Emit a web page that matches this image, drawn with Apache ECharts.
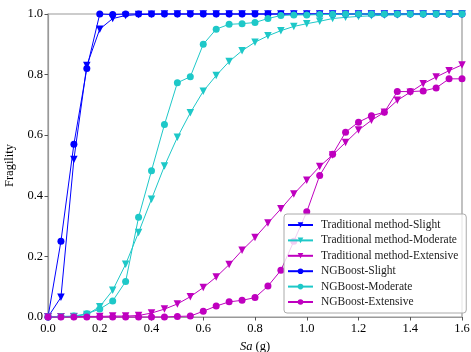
<!DOCTYPE html>
<html><head><meta charset="utf-8">
<script src="https://cdn.jsdelivr.net/npm/echarts@6/dist/echarts.min.js"></script>
<style>html,body{margin:0;padding:0;background:#fff}#c{width:471px;height:352px}</style>
</head><body><div id="c"></div>
<script>
const saValues = [0,0.05,0.1,0.15,0.2,0.25,0.3,0.35,0.4,0.45,0.5,0.55,0.6,0.65,0.7,0.75,0.8,0.85,0.9,0.95,1.0,1.05,1.1,1.15,1.2,1.25,1.3,1.35,1.4,1.45,1.5,1.55,1.6];
const tradSlight = [0,0.065,0.52,0.83,0.95,0.985,0.995,0.998,0.999,1,1,1,1,1,1,1,1,1,1,1,1,1,1,1,1,1,1,1,1,1,1,1,1];
const ngSlight = [0,0.25,0.57,0.82,1.0,0.998,1,1,1,1,1,1,1,1,1,1,1,1,1,1,1,1,1,1,1,1,1,1,1,1,1,1,1];
const tradModerate = [0,0.0005,0.002,0.008,0.034,0.088,0.174,0.279,0.389,0.498,0.593,0.674,0.745,0.797,0.843,0.879,0.907,0.928,0.945,0.959,0.968,0.976,0.985,0.989,0.992,0.994,0.996,0.997,0.998,0.998,0.999,0.999,0.999];
const ngModerate = [0,0.002,0.003,0.011,0.026,0.053,0.117,0.329,0.483,0.635,0.773,0.793,0.9,0.95,0.966,0.968,0.972,0.985,0.995,0.997,0.997,0.998,0.999,1,1,1,1,1,1,1,1,1,1];
const tradExtensive = [0,0.0005,0.001,0.002,0.002,0.003,0.003,0.005,0.013,0.026,0.043,0.067,0.097,0.132,0.173,0.22,0.262,0.31,0.357,0.406,0.451,0.497,0.535,0.576,0.617,0.649,0.676,0.715,0.742,0.77,0.792,0.813,0.832];
const ngExtensive = [0,0,0,0,0,0,0,0,0,0,0.002,0.003,0.019,0.036,0.05,0.055,0.064,0.102,0.154,0.25,0.347,0.467,0.537,0.61,0.643,0.664,0.676,0.744,0.744,0.746,0.756,0.786,0.786];
const xTicks = [0,0.2,0.4,0.6,0.8,1.0,1.2,1.4,1.6];

const BLUE='#0000ff', CYAN='#1ec8c8', MAG='#bf00bf';
const FONT='Liberation Serif';
function mk(name, vals, color, tri){
  return {
    name, type:'line', data: saValues.map((x,i)=>[x, vals[i]]),
    symbol: tri ? 'triangle' : 'circle', symbolRotate: tri ? 180 : 0,
    symbolSize: tri ? 7.5 : 7, showSymbol:true, clip:false,
    lineStyle:{color, width:1}, itemStyle:{color, borderWidth:0},
    emphasis:{disabled:true}, animation:false
  };
}
const chart = echarts.init(document.getElementById('c'), null, {renderer:'canvas'});
chart.setOption({
  animation:false,
  textStyle:{fontFamily:FONT},
  grid:{left:48, right:9, top:14, bottom:35, outerBoundsMode:'none', containLabel:false, show:true, borderColor:'#999', borderWidth:1.2, backgroundColor:'transparent'},
  xAxis:{type:'value', min:0, max:1.6, interval:0.2,
    name:'{i|Sa} (g)', nameLocation:'middle', nameGap:19,
    nameTextStyle:{fontFamily:FONT, fontSize:12.5, color:'#000', rich:{i:{fontStyle:'italic', fontFamily:FONT, fontSize:12.5, color:'#000'}}},
    axisLine:{show:true, lineStyle:{color:'#999', width:1.2}},
    axisTick:{show:true, inside:false, length:3.5, lineStyle:{color:'#555'}},
    axisLabel:{color:'#000', fontSize:12.5, fontFamily:FONT, margin:5, formatter:v=>v.toFixed(1)},
    splitLine:{show:false}},
  yAxis:{type:'value', min:0, max:1.0, interval:0.2,
    name:'Fragility', nameLocation:'middle', nameGap:31,
    nameTextStyle:{fontFamily:FONT, fontSize:12.5, color:'#000'},
    axisLine:{show:true, lineStyle:{color:'#999', width:1.2}},
    axisTick:{show:true, inside:false, length:3.5, lineStyle:{color:'#555'}},
    axisLabel:{color:'#000', fontSize:12.5, fontFamily:FONT, margin:5, formatter:v=>v.toFixed(1)},
    splitLine:{show:false}},
  legend:{orient:'vertical', left:284, top:214, itemWidth:25, itemHeight:7, itemGap:3.4,
    padding:[5,8,5,3], borderColor:'#aaa', borderWidth:1, borderRadius:3,
    backgroundColor:'rgba(255,255,255,0.8)',
    textStyle:{fontFamily:FONT, fontSize:11.5, color:'#222', padding:[0,0,0,3]},
    data:['Traditional method-Slight','Traditional method-Moderate','Traditional method-Extensive','NGBoost-Slight','NGBoost-Moderate','NGBoost-Extensive']},
  series:[
    mk('Traditional method-Slight', tradSlight, BLUE, true),
    mk('Traditional method-Moderate', tradModerate, CYAN, true),
    mk('Traditional method-Extensive', tradExtensive, MAG, true),
    mk('NGBoost-Slight', ngSlight, BLUE, false),
    mk('NGBoost-Moderate', ngModerate, CYAN, false),
    mk('NGBoost-Extensive', ngExtensive, MAG, false)
  ]
});
</script></body></html>
